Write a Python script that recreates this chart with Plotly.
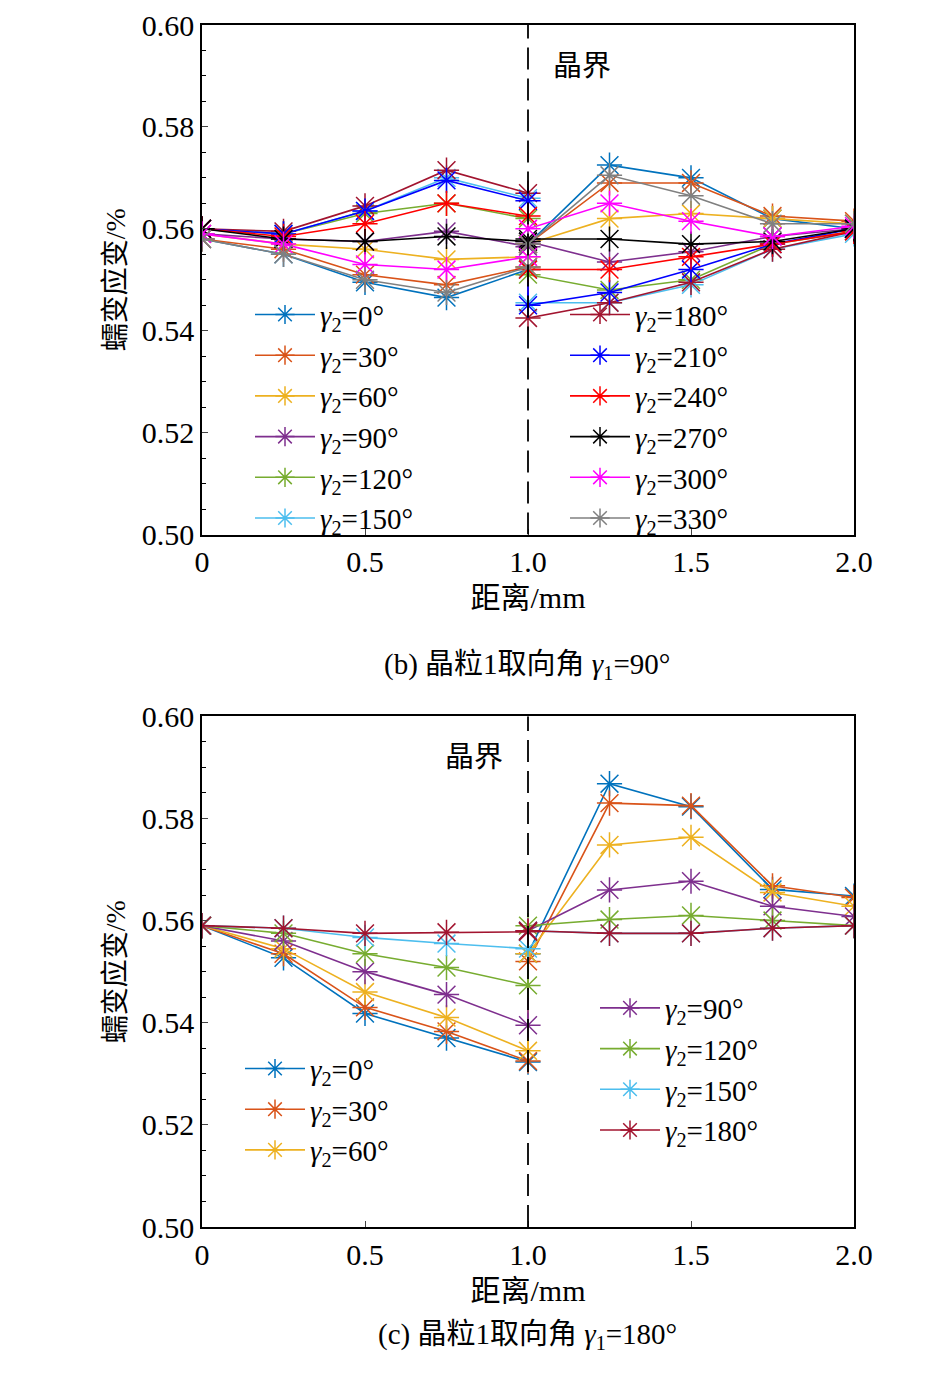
import plotly.graph_objects as go
from plotly.subplots import make_subplots

# x positions; 1.0 appears twice (left/right of the grain boundary)
x_pos = [0, 0.25, 0.5, 0.75, 1.0, 1.0, 1.25, 1.5, 1.75, 2.0]

angles_b = [0, 30, 60, 90, 120, 150, 180, 210, 240, 270, 300, 330]
strain_b = [
    [0.558, 0.555, 0.5495, 0.5465, 0.552, 0.557, 0.5725, 0.570, 0.562, 0.560],
    [0.558, 0.556, 0.551, 0.549, 0.5525, 0.557, 0.569, 0.569, 0.5625, 0.5615],
    [0.559, 0.557, 0.556, 0.554, 0.5545, 0.557, 0.562, 0.563, 0.562, 0.561],
    [0.559, 0.558, 0.5575, 0.5595, 0.5565, 0.5575, 0.5535, 0.5555, 0.5585, 0.560],
    [0.560, 0.559, 0.563, 0.565, 0.562, 0.551, 0.548, 0.550, 0.557, 0.5595],
    [0.560, 0.559, 0.5635, 0.570, 0.566, 0.5455, 0.5455, 0.549, 0.556, 0.559],
    [0.560, 0.5595, 0.5645, 0.5715, 0.567, 0.5425, 0.5455, 0.5495, 0.556, 0.5595],
    [0.560, 0.559, 0.5635, 0.5695, 0.5655, 0.545, 0.5475, 0.552, 0.557, 0.560],
    [0.560, 0.5585, 0.561, 0.565, 0.5625, 0.552, 0.552, 0.5545, 0.557, 0.5595],
    [0.560, 0.558, 0.5575, 0.5585, 0.5575, 0.558, 0.558, 0.557, 0.5575, 0.560],
    [0.559, 0.557, 0.553, 0.552, 0.5545, 0.560, 0.565, 0.5615, 0.5585, 0.5605],
    [0.558, 0.555, 0.550, 0.5475, 0.5525, 0.557, 0.5705, 0.5665, 0.561, 0.561],
]

angles_c = [0, 30, 60, 90, 120, 150, 180]
strain_c = [
    [0.559, 0.5527, 0.5418, 0.537, 0.5323, 0.5535, 0.5868, 0.5823, 0.5661, 0.5648],
    [0.559, 0.5535, 0.543, 0.5383, 0.5325, 0.552, 0.583, 0.5825, 0.5668, 0.5645],
    [0.559, 0.5545, 0.546, 0.541, 0.5345, 0.5535, 0.5748, 0.5763, 0.5655, 0.5628],
    [0.559, 0.556, 0.550, 0.5455, 0.5395, 0.558, 0.566, 0.5677, 0.5628, 0.5608],
    [0.559, 0.5575, 0.5535, 0.5508, 0.5473, 0.559, 0.5602, 0.561, 0.560, 0.559],
    [0.559, 0.5585, 0.5567, 0.5555, 0.5545, 0.558, 0.5575, 0.5575, 0.5585, 0.559],
    [0.559, 0.5585, 0.5575, 0.5577, 0.5578, 0.558, 0.5575, 0.5575, 0.5585, 0.559],
]

colors = {0: "#0072BD", 30: "#D95319", 60: "#EDB120", 90: "#7E2F8E", 120: "#77AC30",
          150: "#4DBEEE", 180: "#A2142F", 210: "#0000FF", 240: "#FF0000",
          270: "#000000", 300: "#FF00FF", 330: "#808080"}

SERIF = "Liberation Serif, Noto Sans CJK SC"
fig = make_subplots(rows=2, cols=1)

def label(a):
    return "<i>γ</i><sub>2</sub>=%d°" % a

def add_series(ang, ys, row, legend):
    fig.add_trace(go.Scatter(x=x_pos, y=ys, mode="lines+markers", name=label(ang),
                             line=dict(color=colors[ang], width=1.6),
                             marker=dict(symbol="asterisk-open", size=21, color=colors[ang],
                                         line=dict(color=colors[ang], width=1.5)),
                             legend=legend), row=row, col=1)

for ang, ys in zip(angles_b, strain_b):
    add_series(ang, ys, 1, "legend" if ang < 180 else "legend2")
for ang, ys in zip(angles_c, strain_c):
    add_series(ang, ys, 2, "legend3" if ang < 90 else "legend4")

fig.update_layout(yaxis=dict(domain=[0.5761, 1]), yaxis2=dict(domain=[0, 0.4249]))

for r in (1, 2):
    fig.update_xaxes(range=[0, 2], tickvals=[0, 0.5, 1, 1.5, 2], ticktext=["0", "0.5", "1.0", "1.5", "2.0"],
                     ticks="inside", ticklen=6, showline=True, linecolor="black", linewidth=1.5, mirror=True,
                     showgrid=False, zeroline=False, tickfont=dict(size=30),
                     title=dict(text="距离/mm", font=dict(size=30), standoff=10), row=r, col=1)
    fig.update_yaxes(range=[0.5, 0.6], dtick=0.02, tickformat=".2f", ticks="inside", ticklen=6,
                     minor=dict(dtick=0.005, ticks="inside", ticklen=4, tickcolor="black"),
                     showline=True, linecolor="black", linewidth=1.5, mirror=True,
                     showgrid=False, zeroline=False, tickfont=dict(size=30),
                     title=dict(text="蠕变应变/%", font=dict(size=28), standoff=8), row=r, col=1)
    xref = "x" if r == 1 else "x2"
    yref = "y" if r == 1 else "y2"
    fig.add_shape(type="line", x0=1, x1=1, y0=0.5, y1=0.6, xref=xref, yref=yref,
                  line=dict(color="black", width=1.8, dash="22px,9px"))

def px(xp, yp):
    # target page pixels -> paper coords
    dy = (yp - 18.1) / 0.9926
    return dict(x=(xp - 202) / 652, y=(1219 - dy) / 1219)

fig.add_annotation(x=1.07, y=0.592, xref="x", yref="y", text="晶界", showarrow=False,
                   xanchor="left", font=dict(size=29))
fig.add_annotation(x=0.93, y=0.592, xref="x2", yref="y2", text="晶界", showarrow=False,
                   xanchor="right", font=dict(size=29))
fig.add_annotation(**px(527, 663), xref="paper", yref="paper", showarrow=False,
                   text="(b) 晶粒1取向角 <i>γ</i><sub>1</sub>=90°", font=dict(size=29))
fig.add_annotation(**px(527, 1358), xref="paper", yref="paper", showarrow=False,
                   text="(c) 晶粒1取向角 <i>γ</i><sub>1</sub>=180°", font=dict(size=29))

leg = dict(bgcolor="rgba(0,0,0,0)", font=dict(size=29, family=SERIF), tracegroupgap=0,
           itemwidth=60, xanchor="left", yanchor="top")

fig.update_layout(
    width=946, height=1387,
    margin=dict(l=194, r=100, t=0, b=168),
    paper_bgcolor="white", plot_bgcolor="white",
    font=dict(family=SERIF, size=28, color="black"),
    legend={**leg, **px(250, 284)},
    legend2={**leg, **px(565, 284)},
    legend3={**leg, **px(240, 1043)},
    legend4={**leg, **px(595, 982)},
)

fig.write_html("out.html")
